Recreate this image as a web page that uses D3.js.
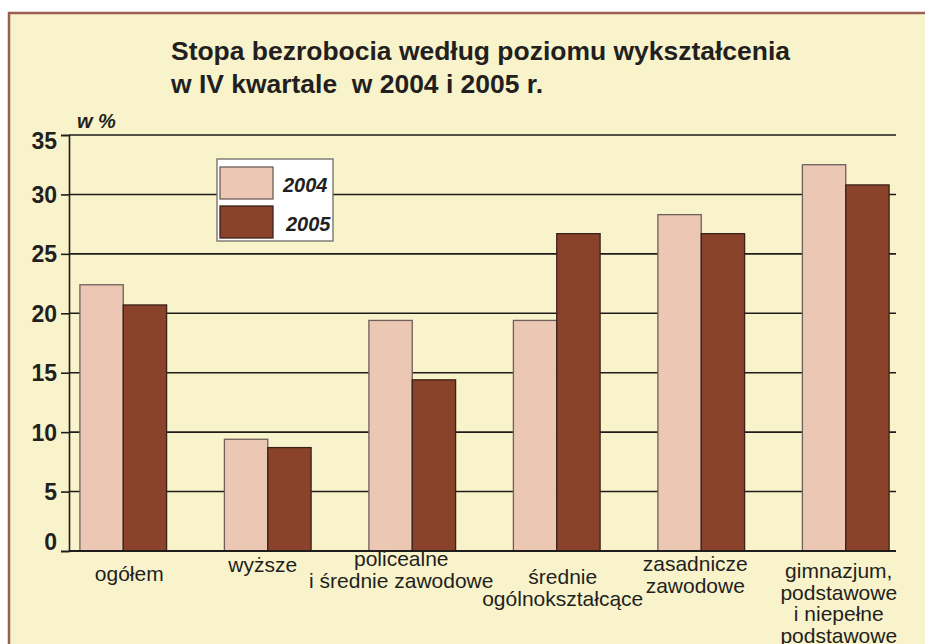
<!DOCTYPE html>
<html>
<head>
<meta charset="utf-8">
<script src="https://cdn.jsdelivr.net/npm/d3@7/dist/d3.min.js"></script>
<style>
  html, body { margin: 0; padding: 0; background: #fff; }
  svg { display: block; }
</style>
</head>
<body>
<div id="chart"></div>
<script>
const categories = [
  ['ogółem'],
  ['wyższe'],
  ['policealne', 'i średnie zawodowe'],
  ['średnie', 'ogólnokształcące'],
  ['zasadnicze', 'zawodowe'],
  ['gimnazjum,', 'podstawowe', 'i niepełne', 'podstawowe']
]
const years = ['2004', '2005']
const values2004 = [22.4, 9.4, 19.4, 19.4, 28.3, 32.5]
const values2005 = [20.7, 8.7, 14.4, 26.7, 26.7, 30.8]
const yTicks = [0, 5, 10, 15, 20, 25, 30, 35]

const width = 925
const height = 644
const fills = { '2004': '#ecc7b4', '2005': '#8a432a' }
const strokes = { '2004': '#6e605a', '2005': '#3a2219' }
// staggered label tops, as in the original layout
const labelTop = [581, 572, 566, 584, 571, 578]
const labelShift = [6, -5, -11, 6, -6, -7]

const svg = d3.select('#chart').append('svg')
  .attr('width', width).attr('height', height)

svg.append('rect').attr('x', 9).attr('y', 13).attr('width', width + 20).attr('height', height)
  .attr('fill', '#f8f3ca').attr('stroke', '#9b5f52').attr('stroke-width', 2.5)

const x0 = 69, x1 = 896
const y = d3.scaleLinear().domain([0, 35]).range([551, 135])
const xBand = d3.scaleBand().domain(d3.range(categories.length)).range([51, 918])
  .paddingInner(0.4).paddingOuter(0.2)
const xSub = d3.scaleBand().domain(years).range([0, xBand.bandwidth()])

// title
const title = svg.append('g').attr('font-family', 'Liberation Sans, Arial, sans-serif')
  .attr('font-weight', 'bold').attr('fill', '#231f20')
title.append('text').attr('x', 171).attr('y', 60).attr('font-size', 26)
  .attr('textLength', 619).attr('lengthAdjust', 'spacingAndGlyphs')
  .text('Stopa bezrobocia według poziomu wykształcenia')
title.append('text').attr('x', 171).attr('y', 93).attr('font-size', 26)
  .style('white-space', 'pre')
  .attr('textLength', 372).attr('lengthAdjust', 'spacingAndGlyphs')
  .text('w IV kwartale  w 2004 i 2005 r.')

svg.append('text').attr('x', 77).attr('y', 128)
  .attr('font-family', 'Liberation Sans, Arial, sans-serif').attr('font-size', 20)
  .attr('font-weight', 'bold').attr('font-style', 'italic').attr('fill', '#231f20')
  .text('w %')

// grid + y axis
const grid = svg.append('g')
grid.selectAll('line').data(yTicks.filter((d) => d > 0)).join('line')
  .attr('x1', x0).attr('x2', x1).attr('y1', (d) => y(d)).attr('y2', (d) => y(d))
  .attr('stroke', '#1f1d1b').attr('stroke-width', 1.6)

const yAxis = svg.append('g').attr('transform', `translate(${x0},0)`)
  .call(d3.axisLeft(y).tickValues(yTicks).tickSize(8).tickPadding(4))
yAxis.select('.domain').attr('stroke', '#1f1d1b').attr('stroke-width', 1.6)
yAxis.selectAll('.tick line').attr('stroke', '#1f1d1b').attr('stroke-width', 1.6)
yAxis.selectAll('.tick text')
  .attr('font-family', 'Liberation Sans, Arial, sans-serif').attr('font-size', 23)
  .attr('font-weight', 'bold').attr('fill', '#231f20')
  .attr('dy', (d) => (d === 0 ? '-0.05em' : d === 35 ? '0.6em' : '0.35em'))

// bars
const rows = categories.map((c, i) => ({ i, vals: [values2004[i], values2005[i]] }))
const groups = svg.append('g').selectAll('g').data(rows).join('g')
  .attr('transform', (d) => `translate(${xBand(d.i)},0)`)
groups.selectAll('rect').data((d) => years.map((yr, k) => ({ yr, v: d.vals[k] }))).join('rect')
  .attr('x', (d) => xSub(d.yr)).attr('width', xSub.bandwidth())
  .attr('y', (d) => y(d.v)).attr('height', (d) => y(0) - y(d.v))
  .attr('fill', (d) => fills[d.yr]).attr('stroke', (d) => strokes[d.yr]).attr('stroke-width', 1.3)

svg.append('line').attr('x1', x0).attr('x2', x1).attr('y1', y(0)).attr('y2', y(0))
  .attr('stroke', '#1f1d1b').attr('stroke-width', 2)

// category labels
const labels = svg.append('g').attr('font-family', 'Liberation Sans, Arial, sans-serif')
  .attr('font-size', 21).attr('fill', '#231f20').attr('text-anchor', 'middle')
categories.forEach((lines, i) => {
  const cx = xBand(i) + xBand.bandwidth() / 2 + labelShift[i]
  const t = labels.append('text').attr('x', cx).attr('y', labelTop[i])
  lines.forEach((ln, k) => {
    t.append('tspan').attr('x', cx).attr('dy', k === 0 ? 0 : 21.5).text(ln)
  })
})

// legend
const legend = svg.append('g').attr('transform', 'translate(217,159)')
legend.append('rect').attr('width', 116).attr('height', 82)
  .attr('fill', '#fff').attr('stroke', '#6e6a66').attr('stroke-width', 1.3)
const items = legend.selectAll('g').data(years).join('g')
  .attr('transform', (d, i) => `translate(3,${8 + i * 39})`)
items.append('rect').attr('width', 53).attr('height', 32)
  .attr('fill', (d) => fills[d]).attr('stroke', (d) => strokes[d]).attr('stroke-width', 1.3)
items.append('text').attr('x', (d, i) => 63 + i * 3).attr('y', 25)
  .attr('font-family', 'Liberation Sans, Arial, sans-serif').attr('font-size', 20)
  .attr('font-weight', 'bold').attr('font-style', 'italic').attr('fill', '#231f20')
  .text((d) => d)
</script>
</body>
</html>
